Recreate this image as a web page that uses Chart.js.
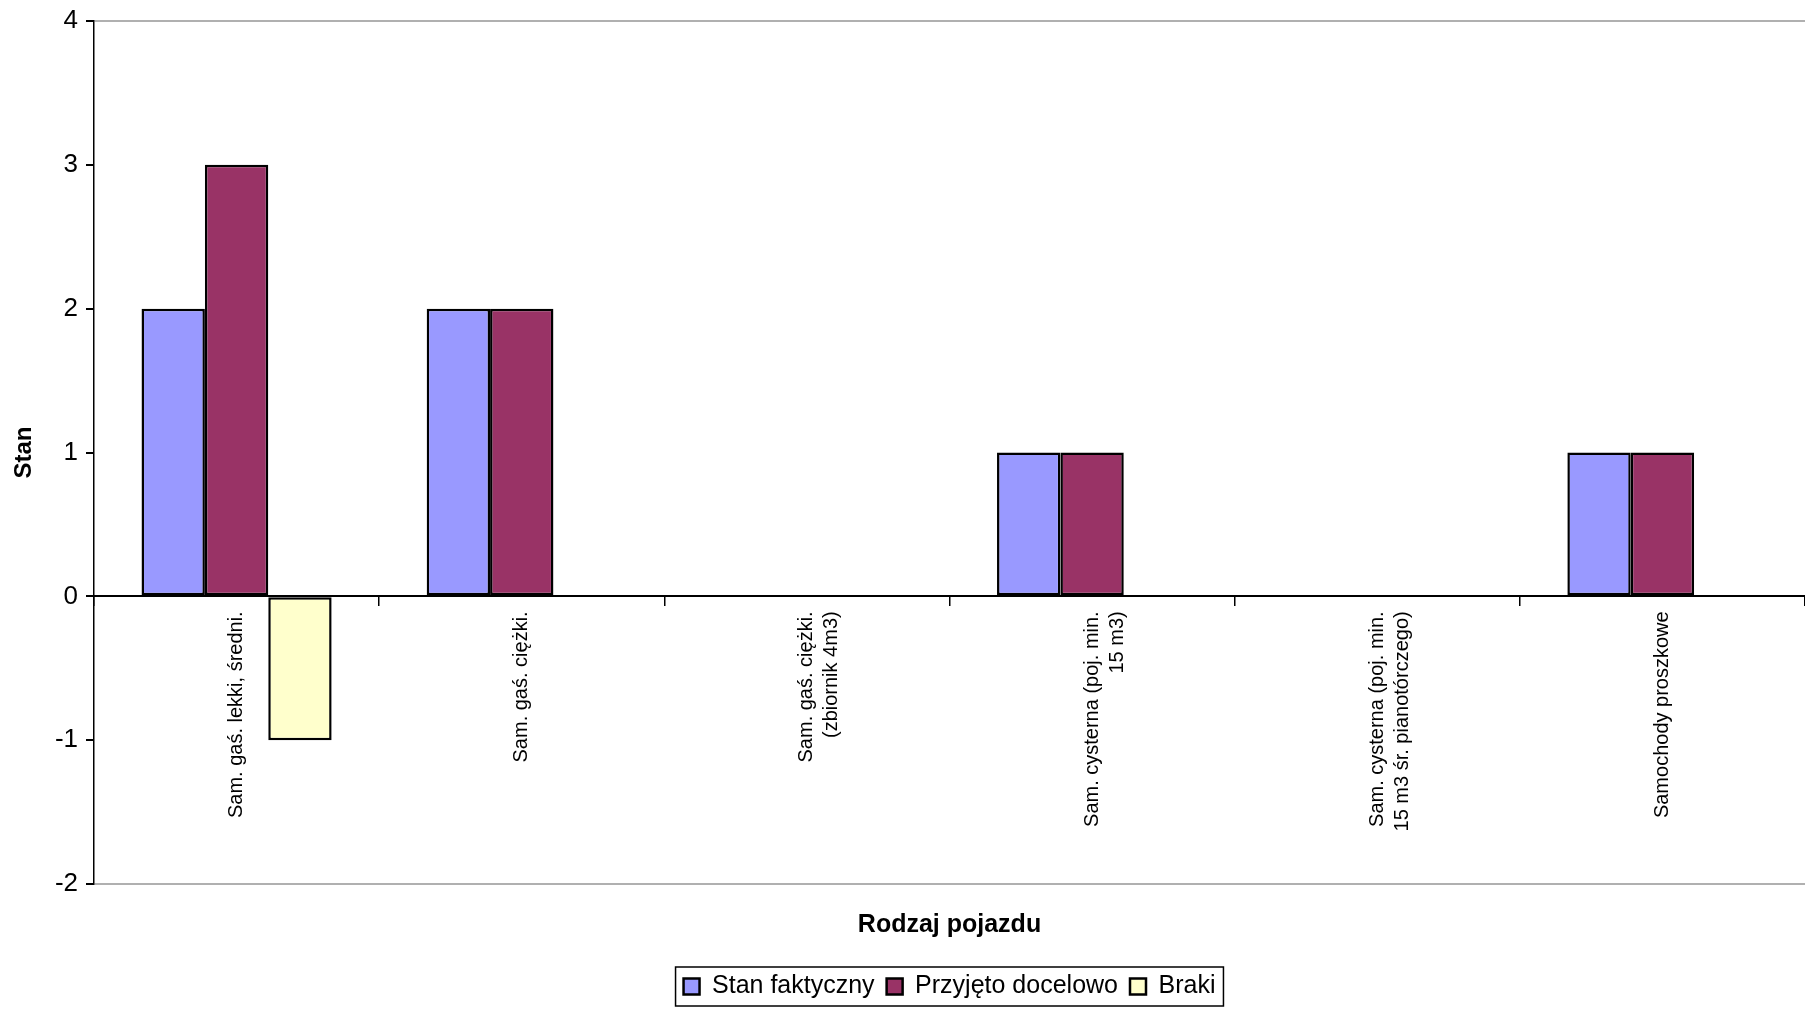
<!DOCTYPE html>
<html>
<head>
<meta charset="utf-8">
<script src="https://cdn.jsdelivr.net/npm/chart.js@4.4.1/dist/chart.umd.min.js"></script>
<style>
  html, body { margin: 0; padding: 0; background: #fff; }
  #wrap { width: 1805px; height: 1009px; }
</style>
</head>
<body>
<div id="wrap"><canvas id="vehicles"></canvas></div>
<script>
const categories = [
    'Sam. gaś. lekki, średni.',
    'Sam. gaś. ciężki.',
    ['Sam. gaś. ciężki.', '(zbiornik 4m3)'],
    ['Sam. cysterna (poj. min.', '15 m3)'],
    ['Sam. cysterna (poj. min.', '15 m3 śr. pianotórczego)'],
    'Samochody proszkowe'
];
const stanFaktyczny = [2, 2, 0, 1, 0, 1];
const przyjetoDocelowo = [3, 2, 0, 1, 0, 1];
const braki = [-1, 0, 0, 0, 0, 0];
const yTicks = [-2, -1, 0, 1, 2, 3, 4];

const font = 'Liberation Sans, Arial, sans-serif';

// legend frame like Excel
const legendBox = {
    id: 'legendBox',
    afterDraw(chart) {
        const boxes = chart.legend.legendHitBoxes;
        if (!boxes || !boxes.length) return;
        let l = Infinity, r = -Infinity, t = Infinity, b = -Infinity;
        boxes.forEach(h => {
            l = Math.min(l, h.left); r = Math.max(r, h.left + h.width);
            t = Math.min(t, h.top); b = Math.max(b, h.top + h.height);
        });
        const ctx = chart.ctx;
        ctx.save();
        ctx.strokeStyle = '#000';
        ctx.lineWidth = 1.5;
        ctx.strokeRect(l - 8, t - 7, r - l + 16, b - t + 14);
        ctx.restore();
    }
};

const ctx = document.getElementById('vehicles');

new Chart(ctx, {
    type: 'bar',
    data: {
        labels: categories,
        datasets: [{
            label: 'Stan faktyczny',
            data: stanFaktyczny,
            backgroundColor: '#9999FF',
            borderColor: '#000',
            borderWidth: 2.5
        }, {
            label: 'Przyjęto docelowo',
            data: przyjetoDocelowo,
            backgroundColor: '#993366',
            borderColor: '#000',
            borderWidth: 2.5
        }, {
            label: 'Braki',
            data: braki,
            backgroundColor: '#FFFFCC',
            borderColor: '#000',
            borderWidth: 2.5
        }]
    },
    plugins: [legendBox],
    options: {
        responsive: true,
        maintainAspectRatio: false,
        animation: false,
        devicePixelRatio: 1,
        layout: { padding: { top: 0, right: 0, left: 0, bottom: 0 } },
        datasets: {
            bar: { categoryPercentage: 3 / 4.5, barPercentage: 1, borderSkipped: false }
        },
        scales: {
            x: {
                position: { y: 0 },
                grid: {
                    drawOnChartArea: false,
                    drawTicks: true,
                    tickLength: 9,
                    color: '#000',
                    lineWidth: 1.5
                },
                border: { color: '#000', width: 2 },
                ticks: {
                    minRotation: 90,
                    maxRotation: 90,
                    autoSkip: false,
                    padding: 6,
                    color: '#000',
                    font: { family: font, size: 20, lineHeight: 1.25 }
                }
            },
            y: {
                min: -2,
                max: 4,
                afterBuildTicks: s => { s.ticks = yTicks.map(v => ({ value: v })); },
                afterFit: s => { s.width = 94; },
                grid: {
                    color: c => (c.tick && (c.tick.value === 4 || c.tick.value === -2)) ? '#b0b0b0' : 'rgba(0,0,0,0)',
                    lineWidth: 2,
                    tickColor: '#000',
                    tickLength: 8
                },
                border: { color: '#000', width: 1.5 },
                ticks: {
                    color: '#000',
                    padding: 8,
                    font: { family: font, size: 26, lineHeight: 1.0 }
                },
                title: {
                    display: true,
                    text: 'Stan',
                    color: '#000',
                    padding: { top: 10, bottom: 0 },
                    font: { family: font, size: 24, weight: 'bold' }
                }
            }
        },
        plugins: {
            tooltip: { enabled: false },
            title: {
                display: true,
                position: 'bottom',
                fullSize: false,
                weight: 500,
                text: 'Rodzaj pojazdu',
                color: '#000',
                padding: { top: 26, bottom: 22 },
                font: { family: font, size: 25, weight: 'bold' }
            },
            legend: {
                position: 'bottom',
                fullSize: false,
                labels: {
                    color: '#000',
                    boxWidth: 16,
                    boxHeight: 16,
                    padding: 12,
                    font: { family: font, size: 25 }
                }
            }
        }
    }
});
</script>
</body>
</html>
